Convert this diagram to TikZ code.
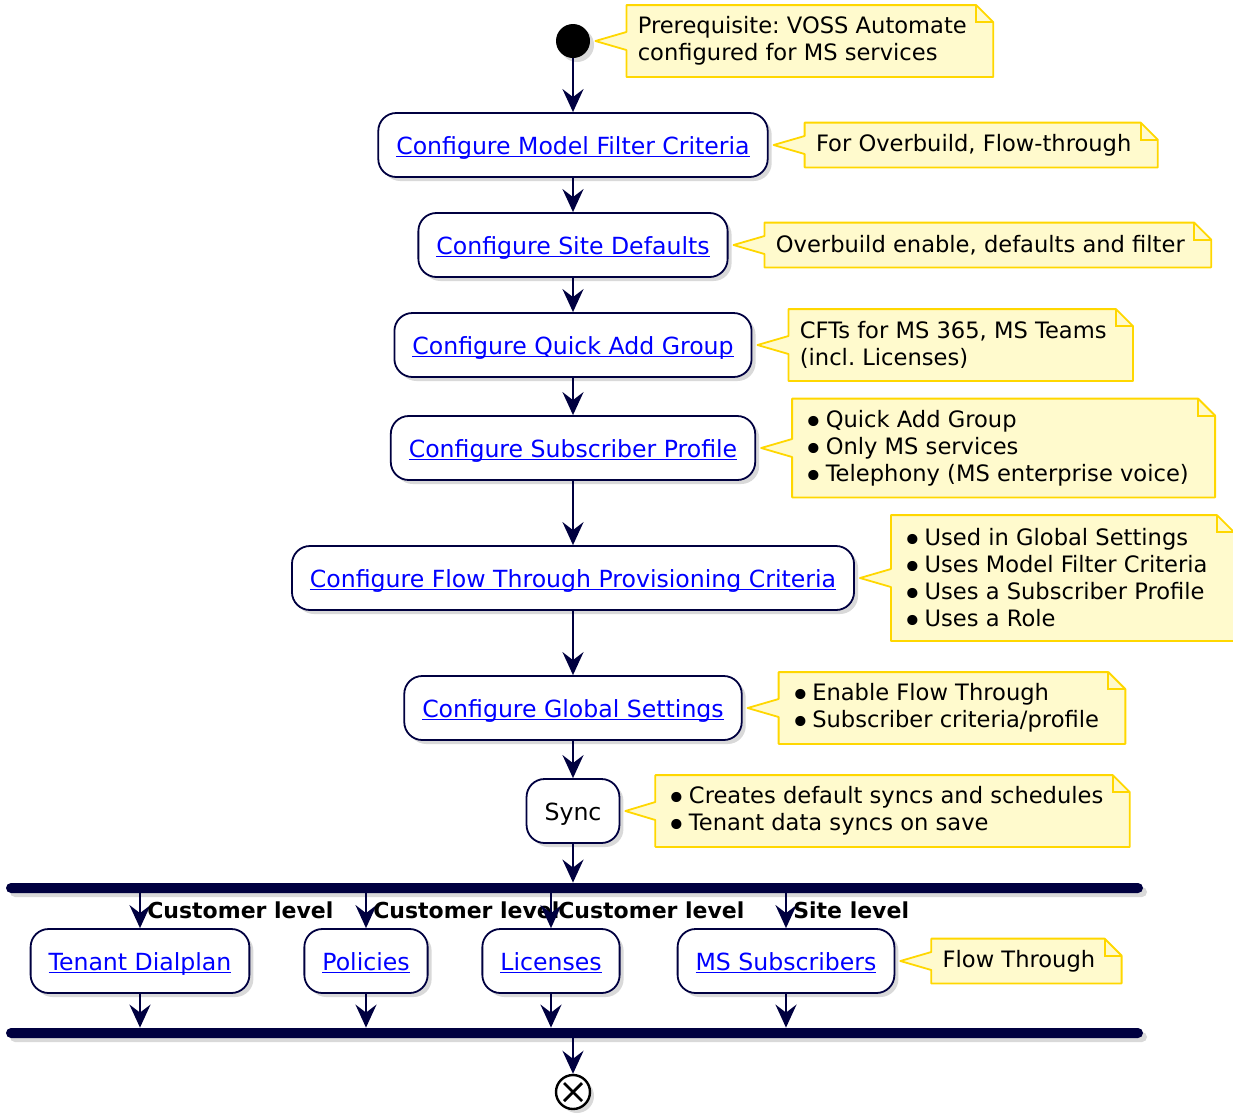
\documentclass[tikz,border=0pt]{standalone}
\usepackage{fontspec}
\setmainfont{DejaVu Sans}
\usetikzlibrary{arrows.meta,positioning,shadows,backgrounds,calc}
\frenchspacing
\definecolor{flowcol}{RGB}{0,0,64}
\definecolor{linkblue}{RGB}{0,0,255}
\definecolor{notefill}{RGB}{255,250,205}
\definecolor{notebrd}{RGB}{255,215,0}
\newcommand{\lnk}[1]{\textcolor{linkblue}{\underline{\smash{#1}}}}
\newcommand{\itm}{\smash{\raisebox{-3.5pt}{\fontsize{17.5}{13.5}\selectfont\textbullet}}\kern0.8pt}
\newcommand{\boxfont}{\fontsize{11.8}{14}\selectfont}
\newcommand{\notefont}{\fontsize{11.3}{13.5}\selectfont}
% note outline with folded corner and a pointer to #2
\newcommand{\pinnote}[2]{%
  \begin{pgfonlayer}{background}
  \draw[notebrd,fill=notefill,line width=0.9pt,line join=round]
    (#1.north west) -- ([xshift=-1pt]#1.north east)
    -- ([xshift=7.5pt,yshift=-8.5pt]#1.north east)
    -- ([xshift=7.5pt]#1.south east) -- (#1.south west)
    -- ([yshift=-4.5pt]#1.west) -- ([xshift=2.5pt]#2.east)
    -- ([yshift=4.5pt]#1.west) -- cycle;
  \draw[notebrd,line width=0.9pt]
    ([xshift=-1pt]#1.north east) |- ([xshift=7.5pt,yshift=-8.5pt]#1.north east);
  \end{pgfonlayer}}

\begin{document}
\begin{tikzpicture}[x=0.5pt,y=-0.5pt,
  act/.style={rectangle,draw=flowcol,fill=white,line width=0.9pt,
              rounded corners=9pt,minimum height=32pt,inner xsep=9pt,font=\boxfont,
              text height=11pt,text depth=2pt,
              drop shadow={shadow xshift=2pt,shadow yshift=-2pt,opacity=0.3}},
  note/.style={inner xsep=5.5pt,inner ysep=0pt,align=left,font=\notefont},
  bar/.style={rectangle,fill=flowcol,minimum width=568.5pt,minimum height=5pt,
              inner sep=0pt,rounded corners=2.5pt,
              drop shadow={shadow xshift=2pt,shadow yshift=-2pt,opacity=0.3}},
  flow/.style={draw=flowcol,line width=1.3pt,
               -{Stealth[length=11.5pt,width=10.5pt,inset=4pt]}},
  lvl/.style={font=\bfseries\fontsize{11}{13}\selectfont,inner sep=3pt}]

\useasboundingbox (0,0) rectangle (1233,1116);

\node[circle,fill=black,minimum size=17pt,inner sep=0pt,
      drop shadow={shadow xshift=2pt,shadow yshift=-2pt,opacity=0.3}] (start) at (573,41) {};

\node[act] (cfgfilter) at (573,145) {\lnk{Configure Model Filter Criteria}};
\node[act] (sitedef)   at (573,245) {\lnk{Configure Site Defaults}};
\node[act] (qag)       at (573,345) {\lnk{Configure Quick Add Group}};
\node[act] (subprof)   at (573,448) {\lnk{Configure Subscriber Profile}};
\node[act] (ftpc)      at (573,578) {\lnk{Configure Flow Through Provisioning Criteria}};
\node[act] (glob)      at (573,708) {\lnk{Configure Global Settings}};
\node[act] (sync)      at (573,811) {Sync};

\node[bar] (fork) at (574.5,888) {};

\node[act] (tdial) at (140,961) {\lnk{Tenant Dialplan}};
\node[act] (pol)   at (366,961) {\lnk{Policies}};
\node[act] (lic)   at (551,961) {\lnk{Licenses}};
\node[act] (mssub) at (786,961) {\lnk{MS Subscribers}};

\node[bar] (join) at (574.5,1033) {};

\node[circle,draw=black,line width=1.2pt,fill=white,minimum size=17pt,inner sep=0pt,
      drop shadow={shadow xshift=2pt,shadow yshift=-2pt,opacity=0.3}] (stop) at (573,1092) {};
\draw[line width=1.4pt] ([shift={(-4.5pt,4.5pt)}]stop.center) -- ([shift={(4.5pt,-4.5pt)}]stop.center);
\draw[line width=1.4pt] ([shift={(-4.5pt,-4.5pt)}]stop.center) -- ([shift={(4.5pt,4.5pt)}]stop.center);

% notes
\node[note,minimum height=35.5pt,right=18pt of start] (npre)
  {Prerequisite: VOSS Automate\\configured for MS services};
\node[note,minimum height=22pt,right=18pt of cfgfilter] (nfilter) {For Overbuild, Flow-through};
\node[note,minimum height=22pt,right=18pt of sitedef] (nsite) {Overbuild enable, defaults and filter};
\node[note,minimum height=35.5pt,right=18pt of qag] (nqag)
  {CFTs for MS 365, MS Teams\\(incl. Licenses)};
\node[note,minimum height=49pt,right=18pt of subprof] (nprof)
  {\itm Quick Add Group\\\itm Only MS services\\\itm Telephony (MS enterprise voice)};
\node[note,minimum height=62.5pt,right=18pt of ftpc] (nftpc)
  {\itm Used in Global Settings\\\itm Uses Model Filter Criteria\\\itm Uses a Subscriber Profile\\\itm Uses a Role};
\node[note,minimum height=35.5pt,right=18pt of glob] (nglob)
  {\itm Enable Flow Through\\\itm Subscriber criteria/profile};
\node[note,minimum height=35.5pt,right=17.5pt of sync] (nsync)
  {\itm Creates default syncs and schedules\\\itm Tenant data syncs on save};
\node[note,minimum height=22pt,right=18pt of mssub] (nmssub) {Flow Through};

\pinnote{npre}{start}
\pinnote{nfilter}{cfgfilter}
\pinnote{nsite}{sitedef}
\pinnote{nqag}{qag}
\pinnote{nprof}{subprof}
\pinnote{nftpc}{ftpc}
\pinnote{nglob}{glob}
\pinnote{nsync}{sync}
\pinnote{nmssub}{mssub}

% flow
\draw[flow] (start) -- (cfgfilter);
\draw[flow] (cfgfilter) -- (sitedef);
\draw[flow] (sitedef) -- (qag);
\draw[flow] (qag) -- (subprof);
\draw[flow] (subprof) -- (ftpc);
\draw[flow] (ftpc) -- (glob);
\draw[flow] (glob) -- (sync);
\draw[flow] (sync) -- (sync |- fork.north);

\draw[flow] (tdial |- fork.south) -- node[lvl,right] {Customer level} (tdial);
\draw[flow] (pol |- fork.south) -- node[lvl,right] {Customer level} (pol);
\draw[flow] (lic |- fork.south) -- node[lvl,right] {Customer level} (lic);
\draw[flow] (mssub |- fork.south) -- node[lvl,right] {Site level} (mssub);

\draw[flow] (tdial) -- (tdial |- join.north);
\draw[flow] (pol) -- (pol |- join.north);
\draw[flow] (lic) -- (lic |- join.north);
\draw[flow] (mssub) -- (mssub |- join.north);

\draw[flow] (stop |- join.south) -- (stop);
\end{tikzpicture}
\end{document}
